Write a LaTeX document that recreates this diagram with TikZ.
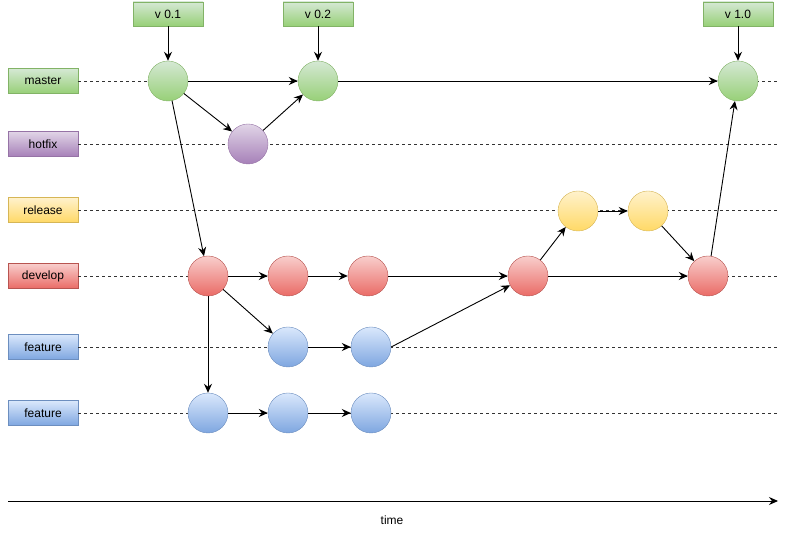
\documentclass[tikz,border=0pt]{standalone}
\usepackage{fontspec}
\setmainfont{Liberation Sans}
\usetikzlibrary{arrows.meta}
\definecolor{gF}{HTML}{D5E8D4}\definecolor{gG}{HTML}{97D077}\definecolor{gS}{HTML}{82B366}
\definecolor{pF}{HTML}{E1D5E7}\definecolor{pG}{HTML}{A680B8}\definecolor{pS}{HTML}{9673A6}
\definecolor{yF}{HTML}{FFF2CC}\definecolor{yG}{HTML}{FFD966}\definecolor{yS}{HTML}{D6B656}
\definecolor{rF}{HTML}{F8CECC}\definecolor{rG}{HTML}{EA6B66}\definecolor{rS}{HTML}{B85450}
\definecolor{bF}{HTML}{DAE8FC}\definecolor{bG}{HTML}{7EA6E0}\definecolor{bS}{HTML}{6C8EBF}
\tikzset{
  x=1pt, y=-1pt,
  txt/.style={font=\fontsize{12}{14}\selectfont},
  lbl/.style={txt, draw, minimum width=70pt, minimum height=25pt, inner sep=0pt},
  green/.style={top color=gF, bottom color=gG, draw=gS},
  purple/.style={top color=pF, bottom color=pG, draw=pS},
  yellow/.style={top color=yF, bottom color=yG, draw=yS},
  red/.style={top color=rF, bottom color=rG, draw=rS},
  blue/.style={top color=bF, bottom color=bG, draw=bS},
  commit/.style={circle, minimum size=40pt, inner sep=0pt},
  lane/.style={dashed, dash pattern=on 3pt off 3pt, line width=0.8pt, draw=black!80},
  edge/.style={-{Stealth[length=9pt,width=8pt,inset=3pt]}, line width=0.9pt},
}
\begin{document}
\begin{tikzpicture}
\useasboundingbox (0,0) rectangle (788,534);
% lane labels
\node[lbl, green]  (Lm) at (43,81) {master};
\node[lbl, purple] (Lh) at (43,144) {hotfix};
\node[lbl, yellow] (Lr) at (43,210) {release};
\node[lbl, red]    (Ld) at (43,276) {develop};
\node[lbl, blue]   (Lf) at (43,347) {feature};
\node[lbl, blue]   (Lg) at (43,413) {feature};
% lane ends
\coordinate (Em) at (778,81);
\coordinate (Eh) at (778,144);
\coordinate (Er) at (778,210);
\coordinate (Ed) at (778,276);
\coordinate (Ef) at (778,347);
\coordinate (Eg) at (778,413);
\draw[lane] (Lm.east) -- (Em);
\draw[lane] (Lh.east) -- (Eh);
\draw[lane] (Lr.east) -- (Er);
\draw[lane] (Ld.east) -- (Ed);
\draw[lane] (Lf.east) -- (Ef);
\draw[lane] (Lg.east) -- (Eg);
% version tags
\node[lbl, green, minimum height=24pt] (V1) at (168,14) {v 0.1};
\node[lbl, green, minimum height=24pt] (V2) at (318,14) {v 0.2};
\node[lbl, green, minimum height=24pt] (V3) at (738,14) {v 1.0};
% commits
\node[commit, green]  (m1) at (168,81) {};
\node[commit, green]  (m2) at (318,81) {};
\node[commit, green]  (m3) at (738,81) {};
\node[commit, purple] (h1) at (248,144) {};
\node[commit, yellow] (r1) at (578,211) {};
\node[commit, yellow] (r2) at (648,211) {};
\node[commit, red]    (d1) at (208,276) {};
\node[commit, red]    (d2) at (288,276) {};
\node[commit, red]    (d3) at (368,276) {};
\node[commit, red]    (d4) at (528,276) {};
\node[commit, red]    (d5) at (708,276) {};
\node[commit, blue]   (f1) at (288,347) {};
\node[commit, blue]   (f2) at (371,347) {};
\node[commit, blue]   (g1) at (208,413) {};
\node[commit, blue]   (g2) at (288,413) {};
\node[commit, blue]   (g3) at (371,413) {};
% edges
\draw[edge] (V1) -- (m1);
\draw[edge] (V2) -- (m2);
\draw[edge] (V3) -- (m3);
\draw[edge] (m1.east) -- (m2.west);
\draw[edge] (m2.east) -- (m3.west);
\draw[edge] (m1) -- (h1);
\draw[edge] (h1) -- (m2);
\draw[edge] (m1) -- (d1);
\draw[edge] (d1) -- (d2);
\draw[edge] (d2) -- (d3);
\draw[edge] (d3) -- (d4);
\draw[edge] (d1) -- (f1);
\draw[edge] (f1) -- (f2);
\draw[edge] (f2.east) -- (d4);
\draw[edge] (d1) -- (g1);
\draw[edge] (g1) -- (g2);
\draw[edge] (g2) -- (g3);
\draw[edge] (d4) -- (r1);
\draw[edge] (r1) -- (r2);
\draw[edge] (r2) -- (d5);
\draw[edge] (d4) -- (d5);
\draw[edge] (d5) -- (m3);
% time axis
\coordinate (T0) at (8,501);
\coordinate (T1) at (778,501);
\draw[edge] (T0) -- (T1);
\node[txt] (time) at (392,520) {time};
\end{tikzpicture}
\end{document}
